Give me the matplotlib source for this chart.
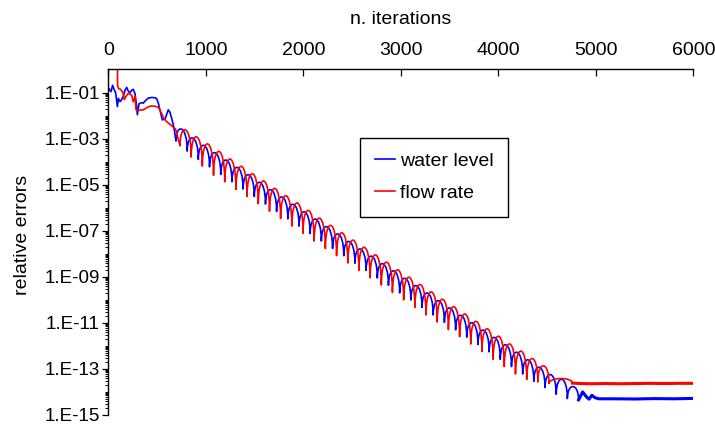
import numpy as np
import matplotlib
matplotlib.use("Agg")
import matplotlib.pyplot as plt
from matplotlib.path import Path
from matplotlib.patches import PathPatch
from matplotlib.lines import Line2D
from matplotlib.ticker import FixedLocator, NullFormatter

plt.rcParams['font.family'] = ['Liberation Sans', 'DejaVu Sans']

# ---- water level (blue) ----
blue_start_x = [0, 7, 27, 44, 58, 75, 93, 103, 120, 137, 154, 171, 188, 205, 222, 239, 256, 274, 291, 298,
                315, 342, 359, 376, 393, 410, 444, 479, 496, 513, 537, 554, 581, 615, 632, 649, 672]
blue_start_y = [0.14, 0.15, 0.11, 0.21, 0.14, 0.10, 0.025, 0.056, 0.041, 0.05, 0.07, 0.126, 0.17, 0.117, 0.1,
                0.126, 0.14, 0.089, 0.025, 0.011, 0.033, 0.037, 0.035, 0.043, 0.05, 0.058, 0.062, 0.06, 0.055,
                0.035, 0.013, 0.0066, 0.007, 0.018, 0.014, 0.008, 0.0032]
blue_cusp_x = [694, 809, 923, 1038, 1153, 1268, 1382, 1497, 1612, 1726, 1841, 1956, 2070, 2185, 2300, 2415,
               2529, 2644, 2759, 2873, 2988, 3103, 3217, 3332, 3447, 3562, 3676, 3791, 3906, 4020, 4135, 4250,
               4364, 4479, 4594, 4708, 4823]
blue_cusp_y = [7.9e-4, 2.9e-4, 1.26e-4, 6.0e-5, 2.8e-5, 1.35e-5, 6.5e-6, 3.1e-6, 1.45e-6, 6.9e-7, 3.3e-7,
               1.6e-7, 7.6e-8, 3.6e-8, 1.7e-8, 8.3e-9, 3.9e-9, 1.9e-9, 8.9e-10, 4.3e-10, 2.0e-10, 9.8e-11,
               4.7e-11, 2.2e-11, 1.05e-11, 5.0e-12, 2.4e-12, 1.15e-12, 5.5e-13, 2.6e-13, 1.26e-13, 6.0e-14,
               2.9e-14, 1.55e-14, 7.9e-15, 5.1e-15, 4.5e-15]
blue_peak_y = [2.6e-3, 1.07e-3, 5.1e-4, 2.45e-4, 1.17e-4, 5.6e-5, 2.7e-5, 1.26e-5, 6.0e-6, 2.9e-6, 1.4e-6,
               6.6e-7, 3.2e-7, 1.5e-7, 7.2e-8, 3.4e-8, 1.6e-8, 7.8e-9, 3.7e-9, 1.8e-9, 8.5e-10, 4.1e-10,
               1.95e-10, 9.1e-11, 4.4e-11, 2.1e-11, 1.0e-11, 4.8e-12, 2.3e-12, 1.1e-12, 5.2e-13, 2.45e-13,
               1.17e-13, 5.6e-14, 3.5e-14, 1.7e-14]
blue_tail_x = [4823, 4865, 4900, 4930, 4960, 4990, 5030, 5200, 5400, 5600, 5800, 6000]
blue_tail_y = [4.5e-15, 1.0e-14, 6.3e-15, 4.8e-15, 7.1e-15, 5.6e-15, 5.0e-15, 5.0e-15, 4.9e-15, 5.1e-15,
               5.0e-15, 5.2e-15]

# ---- flow rate (red) ----
red_start_x = [93, 95, 105, 125, 150, 164, 182, 205, 239, 256, 274, 284, 308, 359, 393, 428, 479, 513, 537,
               564, 598, 640, 690]
red_start_y = [5.0, 0.21, 0.15, 0.14, 0.1, 0.05, 0.07, 0.093, 0.078, 0.04, 0.07, 0.018, 0.017, 0.018, 0.022,
               0.026, 0.026, 0.023, 0.015, 0.0085, 0.0055, 0.004, 0.0026]
red_cusp_x = [735, 850, 964, 1079, 1194, 1309, 1423, 1538, 1653, 1767, 1882, 1997, 2111, 2226, 2341, 2456,
              2570, 2685, 2800, 2914, 3029, 3144, 3258, 3373, 3488, 3603, 3717, 3832, 3947, 4061, 4176, 4291,
              4405, 4520, 4760]
red_cusp_y = [4.9e-4, 1.6e-4, 6.5e-5, 2.6e-5, 1.35e-5, 6.3e-6, 3.1e-6, 1.5e-6, 7.1e-7, 3.4e-7, 1.6e-7,
              7.8e-8, 3.6e-8, 1.7e-8, 8.3e-9, 4.0e-9, 1.9e-9, 9.1e-10, 4.4e-10, 2.1e-10, 1.0e-10, 4.7e-11,
              2.2e-11, 1.1e-11, 5.1e-12, 2.5e-12, 1.2e-12, 5.6e-13, 2.6e-13, 1.26e-13, 6.0e-14, 3.5e-14,
              2.7e-14, 2.3e-14, 2.4e-14]
red_peak_y = [2.4e-3, 1.2e-3, 5.9e-4, 2.8e-4, 1.3e-4, 6.3e-5, 3.0e-5, 1.45e-5, 6.9e-6, 3.3e-6, 1.6e-6,
              7.6e-7, 3.5e-7, 1.7e-7, 8.1e-8, 3.9e-8, 1.9e-8, 8.9e-9, 4.3e-9, 2.0e-9, 9.5e-10, 4.6e-10,
              2.2e-10, 1.05e-10, 5.0e-11, 2.4e-11, 1.15e-11, 5.5e-12, 2.6e-12, 1.2e-12, 5.9e-13, 2.8e-13,
              1.35e-13, 3.8e-14]
red_tail_x = [4760, 4850, 4950, 5100, 5250, 5400, 5550, 5700, 5850, 6000]
red_tail_y = [2.4e-14, 2.3e-14, 2.25e-14, 2.3e-14, 2.25e-14, 2.3e-14, 2.35e-14, 2.3e-14, 2.35e-14, 2.35e-14]

y_major = [1e-1, 1e-3, 1e-5, 1e-7, 1e-9, 1e-11, 1e-13, 1e-15]
y_labels = ['1.E-01', '1.E-03', '1.E-05', '1.E-07', '1.E-09', '1.E-11', '1.E-13', '1.E-15']


def curve_path(start_x, start_y, cusp_x, cusp_y, peak_y):
    # transient as straight segments, then one rounded arch between each pair of cusps
    verts = list(zip(start_x, start_y))
    codes = [Path.MOVETO] + [Path.LINETO] * (len(verts) - 1)
    verts.append((cusp_x[0], cusp_y[0]))
    codes.append(Path.LINETO)
    for i, p in enumerate(peak_y):
        l0, l1 = np.log10(cusp_y[i]), np.log10(cusp_y[i + 1])
        h = 10 ** ((np.log10(p) - 0.125 * (l0 + l1)) / 0.75)
        verts += [(cusp_x[i], h), (cusp_x[i + 1], h), (cusp_x[i + 1], cusp_y[i + 1])]
        codes += [Path.CURVE4] * 3
    return Path(verts, codes)


fig = plt.figure(figsize=(7.15, 4.24), dpi=100)
ax = fig.add_axes([0.1515, 0.0215, 0.8182, 0.8158])
ax.set_yscale('log')
ax.set_xlim(0, 6000)
ax.set_ylim(1e-15, 1.07)

ax.add_patch(PathPatch(curve_path(blue_start_x, blue_start_y, blue_cusp_x, blue_cusp_y, blue_peak_y),
                       fill=False, edgecolor='#0000ff', lw=1.2, joinstyle='round'))
ax.plot(blue_tail_x, blue_tail_y, color='#0000ff', lw=2.2)
ax.add_patch(PathPatch(curve_path(red_start_x, red_start_y, red_cusp_x, red_cusp_y, red_peak_y),
                       fill=False, edgecolor='#ff0000', lw=1.2, joinstyle='round'))
ax.plot(red_tail_x, red_tail_y, color='#ff0000', lw=2.2)

# axes styling
for s in ['right', 'bottom']:
    ax.spines[s].set_visible(False)
for s in ['top', 'left']:
    ax.spines[s].set_linewidth(1.0)

ax.xaxis.tick_top()
ax.xaxis.set_label_position('top')
ax.set_xticks(range(0, 6001, 1000))
ax.tick_params(axis='x', direction='in', length=4.8, width=0.9, pad=7, labelsize=14)
ax.set_xlabel('n. iterations', fontsize=14, labelpad=13)

ax.yaxis.set_major_locator(FixedLocator(y_major))
ax.set_yticklabels(y_labels)
ax.yaxis.set_minor_locator(FixedLocator([m * 10.0 ** e for e in range(-15, -1) for m in range(1, 10)]))
ax.yaxis.set_minor_formatter(NullFormatter())
ax.tick_params(axis='y', which='major', direction='out', length=4.3, width=0.9, pad=1.8, labelsize=13.5)
ax.tick_params(axis='y', which='minor', direction='out', length=2.4, width=0.7)
ax.set_ylabel('relative errors', fontsize=14)
ax.yaxis.set_label_coords(-0.132, 0.52)

handles = [Line2D([], [], color='#0000ff', lw=1.2), Line2D([], [], color='#ff0000', lw=1.2)]
leg = ax.legend(handles, ['water level', 'flow rate'], loc='upper left', bbox_to_anchor=(0.4305, 0.801),
                fontsize=14, frameon=True, fancybox=False, framealpha=1, edgecolor='black',
                handlelength=1.05, handletextpad=0.25, borderpad=0.75, labelspacing=0.75, borderaxespad=0)
leg.get_frame().set_linewidth(1.0)

fig.savefig('out.png', dpi=100)
